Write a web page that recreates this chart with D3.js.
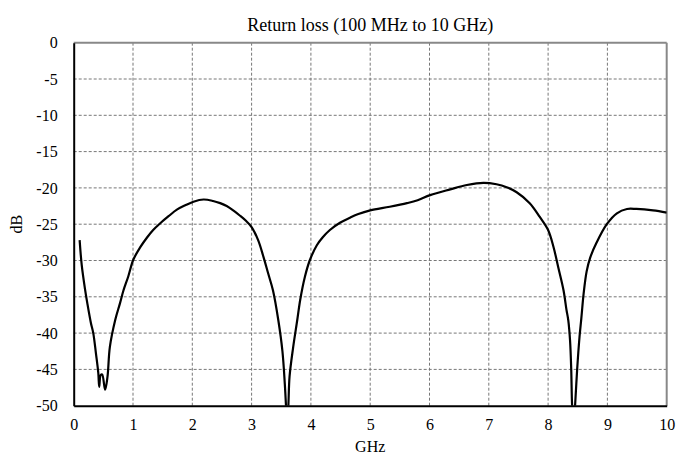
<!DOCTYPE html>
<html>
<head>
<meta charset="utf-8">
<script src="https://cdn.jsdelivr.net/npm/d3@7"></script>
<style>
  body { margin: 0; background: #fff; }
  svg { display: block; }
</style>
</head>
<body>
<svg id="chart" width="689" height="457"></svg>
<script>
const freqGHz = [0.10,0.135,0.19,0.23,0.29,0.33,0.375,0.415,0.43,0.455,0.48,0.53,0.57,0.61,0.70,0.78,0.84,0.92,1.005,1.12,1.24,1.34,1.455,1.60,1.74,1.88,2.02,2.19,2.35,2.47,2.58,2.69,2.80,2.90,3.00,3.11,3.20,3.28,3.36,3.45,3.52,3.56,3.58,3.60,3.62,3.64,3.70,3.77,3.82,3.90,3.98,4.10,4.20,4.32,4.49,4.66,4.80,5.00,5.33,5.62,5.80,6.01,6.35,6.63,6.91,7.13,7.30,7.47,7.69,7.86,8.00,8.09,8.17,8.26,8.31,8.34,8.37,8.39,8.405,8.43,8.455,8.49,8.53,8.56,8.60,8.65,8.71,8.82,8.99,9.16,9.33,9.49,9.77,10.0];
const returnLossDb = [-27.2,-30.6,-33.9,-35.9,-38.6,-40.0,-42.8,-45.5,-47.4,-45.8,-45.7,-47.8,-46.0,-41.9,-38.2,-35.9,-34.1,-32.2,-29.9,-28.2,-26.8,-25.8,-24.9,-23.9,-23.0,-22.4,-21.9,-21.6,-21.8,-22.1,-22.5,-23.1,-23.8,-24.5,-25.4,-27.2,-29.5,-31.8,-34.1,-38.2,-42.5,-47.0,-50.0,-53.0,-50.0,-46.0,-42.0,-38.2,-35.4,-32.2,-30.0,-27.9,-26.8,-25.8,-24.8,-24.1,-23.6,-23.1,-22.6,-22.1,-21.7,-21.0,-20.2,-19.6,-19.3,-19.5,-19.9,-20.6,-22.1,-24.0,-25.8,-28.1,-30.9,-34.1,-36.8,-38.2,-41.0,-45.0,-50.0,-53.0,-50.0,-45.0,-40.5,-38.0,-34.5,-31.5,-29.6,-27.5,-25.0,-23.5,-22.9,-22.9,-23.1,-23.4];
const xTicks = [0,1,2,3,4,5,6,7,8,9,10];
const yTicks = [0,-5,-10,-15,-20,-25,-30,-35,-40,-45,-50];
const titleText = "Return loss (100 MHz to 10 GHz)";
const xLabel = "GHz";
const yLabel = "dB";

const FONT = '"Liberation Serif", "Times New Roman", Times, "DejaVu Serif", serif';
const svg = d3.select("#chart");
const L = 73.7, R = 666.7, T = 42.7, B = 405.7;
const x = d3.scaleLinear().domain([0, 10]).range([L, R]);
const y = d3.scaleLinear().domain([-50, 0]).range([B, T]);

// grid
const grid = svg.append("g");
grid.selectAll("line.vg").data(xTicks.filter(d => d > 0 && d < 10)).enter().append("line")
  .attr("x1", d => x(d)).attr("x2", d => x(d)).attr("y1", T).attr("y2", B)
  .attr("stroke", "#777").attr("stroke-width", 1).attr("stroke-dasharray", "3,2");
grid.selectAll("line.hg").data(yTicks.filter(d => d > -50 && d < 0)).enter().append("line")
  .attr("y1", d => y(d)).attr("y2", d => y(d)).attr("x1", L).attr("x2", R)
  .attr("stroke", "#777").attr("stroke-width", 1).attr("stroke-dasharray", "3,2");

// top and right borders (gray)
svg.append("line").attr("x1", L).attr("x2", R).attr("y1", T).attr("y2", T)
  .attr("stroke", "#888").attr("stroke-width", 2);
svg.append("line").attr("x1", R).attr("x2", R).attr("y1", T).attr("y2", B)
  .attr("stroke", "#888").attr("stroke-width", 2);

// axes
const xAxis = d3.axisBottom(x).tickValues(xTicks).tickSize(0).tickPadding(13).tickFormat(d3.format("d"));
const yAxis = d3.axisLeft(y).tickValues(yTicks).tickSize(0).tickPadding(16).tickFormat(d => d === 0 ? "0" : String(d));
const gx = svg.append("g").attr("transform", `translate(0,${B})`).call(xAxis);
const gy = svg.append("g").attr("transform", `translate(${L},0)`).call(yAxis);
[gx, gy].forEach(g => {
  g.attr("font-family", FONT).attr("font-size", 16);
  g.select(".domain").attr("stroke", "#000").attr("stroke-width", 2);
  g.selectAll("text").attr("fill", "#000");
});
gx.selectAll("text").attr("dy", "0.71em");

// clip
svg.append("clipPath").attr("id", "clip").append("rect")
  .attr("x", L).attr("y", T).attr("width", R - L).attr("height", B - T);

const line = d3.line().x((d, i) => x(freqGHz[i])).y((d, i) => y(returnLossDb[i])).curve(d3.curveCatmullRom.alpha(0.5));
svg.append("path").attr("clip-path", "url(#clip)")
  .attr("d", line(freqGHz))
  .attr("fill", "none").attr("stroke", "#000").attr("stroke-width", 2.2).attr("stroke-linejoin", "round");

// titles
svg.append("text").attr("x", (L + R) / 2).attr("y", 31).attr("text-anchor", "middle")
  .attr("font-family", FONT).attr("font-size", 18).text(titleText);
svg.append("text").attr("x", (L + R) / 2).attr("y", 452).attr("text-anchor", "middle")
  .attr("font-family", FONT).attr("font-size", 16).text(xLabel);
svg.append("text").attr("transform", `translate(22,${(T + B) / 2}) rotate(-90)`).attr("text-anchor", "middle")
  .attr("font-family", FONT).attr("font-size", 16).text(yLabel);
</script>
</body>
</html>
